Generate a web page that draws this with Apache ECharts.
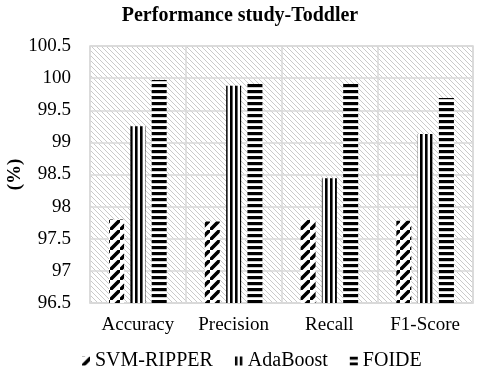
<!DOCTYPE html>
<html><head><meta charset="utf-8">
<script src="https://cdn.jsdelivr.net/npm/echarts@6/dist/echarts.min.js"></script>
<style>html,body{margin:0;padding:0;background:#fff}#c{width:480px;height:377px}</style>
</head><body><div id="c"></div>
<script>
var categories = ['Accuracy', 'Precision', 'Recall', 'F1-Score'];
var seriesNames = ['SVM-RIPPER', 'AdaBoost', 'FOIDE'];
var svmRipper = [97.8, 97.77, 97.79, 97.78];
var adaBoost = [99.25, 99.88, 98.44, 99.13];
var foide = [99.97, 99.91, 99.91, 99.69];
var yTicks = [96.5, 97, 97.5, 98, 98.5, 99, 99.5, 100, 100.5];

function tile(w, h, draw) {
  var c = document.createElement('canvas');
  c.width = w; c.height = h;
  var g = c.getContext('2d');
  g.fillStyle = '#fff'; g.fillRect(0, 0, w, h);
  draw(g, w, h);
  return { image: c, repeat: 'repeat' };
}
function diag(s, lw, color, forward) {
  return tile(s, s, function (g) {
    g.strokeStyle = color; g.lineWidth = lw; g.lineCap = 'square';
    g.beginPath();
    if (forward) {
      g.moveTo(-s, s * 2); g.lineTo(s * 2, -s);
      g.moveTo(-s * 2, s); g.lineTo(s, -s * 2);
      g.moveTo(0, s * 3); g.lineTo(s * 3, 0);
    } else {
      g.moveTo(-s, -s); g.lineTo(s * 2, s * 2);
      g.moveTo(-s * 2, -s * 0); g.lineTo(s, s * 3);
      g.moveTo(0, -s * 2); g.lineTo(s * 3, s);
    }
    g.stroke();
  });
}
var bgPattern = diag(5, 0.9, '#c4c4c4', false);
var svmPattern = diag(10, 3.6, '#000', true);
var adaPattern = tile(5, 4, function (g) { g.fillStyle = '#000'; g.fillRect(0, 0, 2.6, 4); });
var foidePattern = tile(4, 6, function (g) { g.fillStyle = '#000'; g.fillRect(0, 0, 4, 3.2); });

var chart = echarts.init(document.getElementById('c'), null, { renderer: 'canvas' });
var font = 'Liberation Serif';
var gridColor = '#d9d9d9';
function bar(name, data, pat) {
  return {
    name: name, type: 'bar', data: data, barWidth: 15, barGap: '42%',
    itemStyle: { color: pat }, emphasis: { disabled: true }
  };
}
chart.setOption({
  animation: false,
  title: {
    text: 'Performance study-Toddler', left: 'center', top: 1, padding: [5, 0, 5, 12],
    textStyle: { fontFamily: font, fontWeight: 'bold', fontSize: 20, color: '#000' }
  },
  legend: {
    bottom: 1, left: 77, itemWidth: 8, itemHeight: 9, itemGap: 22,
    icon: 'rect',
    textStyle: { fontFamily: font, fontSize: 20, color: '#000' },
    data: seriesNames
  },
  grid: {
    left: 90, right: 7, top: 46, bottom: 74, show: true, outerBoundsMode: 'none', containLabel: false,
    backgroundColor: bgPattern, borderColor: gridColor, borderWidth: 1.5
  },
  xAxis: {
    type: 'category', data: categories,
    axisLine: { lineStyle: { color: gridColor, width: 1.5 } },
    axisTick: { show: false },
    axisLabel: { fontFamily: font, fontSize: 19, color: '#000', margin: 13, interval: 0 },
    splitLine: { show: true, interval: 0, lineStyle: { color: gridColor, width: 1.5 } }
  },
  yAxis: {
    type: 'value', min: yTicks[0], max: yTicks[yTicks.length - 1], interval: 0.5,
    name: '(%)', nameLocation: 'middle', nameGap: 65, nameRotate: 90, nameMoveOverlap: false,
    nameTextStyle: { fontFamily: font, fontWeight: 'bold', fontSize: 19, color: '#000' },
    axisLine: { show: false }, axisTick: { show: false },
    axisLabel: { fontFamily: font, fontSize: 19, color: '#000', margin: 19 },
    splitLine: { lineStyle: { color: gridColor, width: 1.5 } }
  },
  series: [
    bar(seriesNames[0], svmRipper, svmPattern),
    bar(seriesNames[1], adaBoost, adaPattern),
    bar(seriesNames[2], foide, foidePattern)
  ]
});
</script></body></html>
